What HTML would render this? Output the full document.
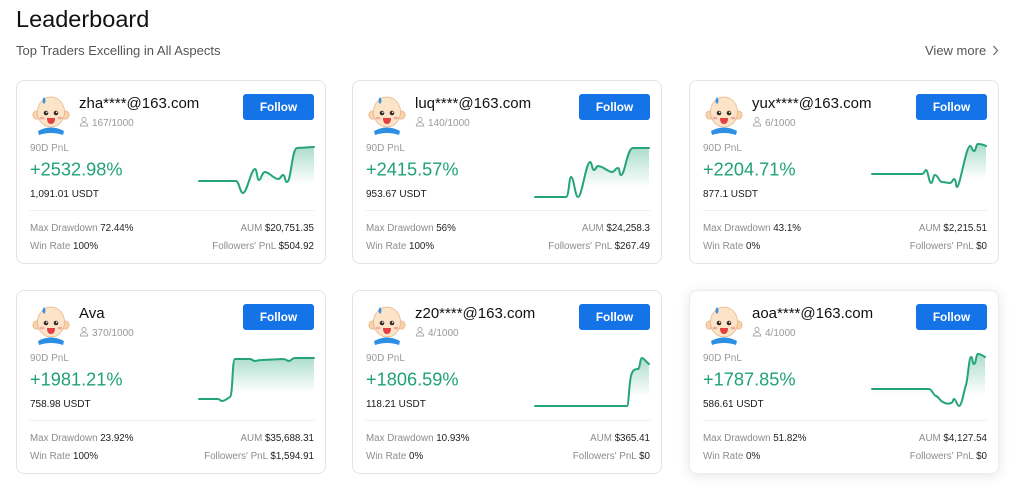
<!DOCTYPE html>
<html><head><meta charset="utf-8">
<style>
html,body{margin:0;padding:0;background:#fff;}
body{width:1024px;height:496px;position:relative;overflow:hidden;font-family:"Liberation Sans",Arial,sans-serif;}
.card{position:absolute;width:310px;height:184px;border:1px solid #e4e4e4;border-radius:8px;background:#fff;box-sizing:border-box;}
.hov{box-shadow:0 2px 12px rgba(0,0,0,0.10);border-color:#ececec;}
svg{position:absolute;left:0;top:0;}
</style></head><body>
<div class="card" style="left:16px;top:80px;"></div>
<div class="card" style="left:352px;top:80px;"></div>
<div class="card" style="left:689px;top:80px;"></div>
<div class="card" style="left:16px;top:290px;"></div>
<div class="card" style="left:352px;top:290px;"></div>
<div class="card hov" style="left:689px;top:290px;"></div>

<svg width="1024" height="496" viewBox="0 0 1024 496" font-family="Liberation Sans, Arial, sans-serif">
<defs>
<linearGradient id="gf" x1="0" y1="0" x2="0" y2="1">
<stop offset="0" stop-color="#26a67c" stop-opacity="0.38"/>
<stop offset="0.8" stop-color="#26a67c" stop-opacity="0"/>
</linearGradient>
</defs>

<text x="16" y="27" font-size="23.5" fill="#111">Leaderboard</text>
<text x="16" y="55" font-size="13" fill="#555">Top Traders Excelling in All Aspects</text>
<text x="925" y="55" font-size="13" fill="#555">View more</text>
<path d="M993.5,46 L997.5,50.5 L993.5,55" fill="none" stroke="#666" stroke-width="1.2"/>

<!-- CARD 1 -->
<g transform="translate(0,0)">
 <g>
  <circle cx="37" cy="115" r="4.2" fill="#f7d2ac" stroke="#e3ad7d" stroke-width="0.7"/>
  <circle cx="65" cy="115" r="4.2" fill="#f7d2ac" stroke="#e3ad7d" stroke-width="0.7"/>
  <path d="M38,131 Q51,124 64,131 L63,135 Q51,131 39,135 Z" fill="#2c8fe4"/>
  <ellipse cx="51" cy="112" rx="13.5" ry="15" fill="#fbe4c8" stroke="#e7b68a" stroke-width="0.8"/>
  <path d="M44,97 Q47,101 44,104 Q41,101 44,97 Z" fill="#3b8fdc"/>
  <circle cx="46" cy="113" r="2.3" fill="#3a2a26"/><circle cx="56" cy="113" r="2.3" fill="#3a2a26"/>
  <circle cx="46.7" cy="112.3" r="0.8" fill="#fff"/><circle cx="56.7" cy="112.3" r="0.8" fill="#fff"/>
  <ellipse cx="42" cy="118" rx="2.3" ry="1.3" fill="#f4a6a0"/><ellipse cx="60" cy="118" rx="2.3" ry="1.3" fill="#f4a6a0"/>
  <path d="M47,118 L55,118 Q55,124 51,124 Q47,124 47,118 Z" fill="#e2403f"/>
 </g>
 <text x="79" y="108" font-size="15" fill="#111">zha****@163.com</text>
 <circle cx="84" cy="119.6" r="2.1" fill="none" stroke="#aaa" stroke-width="0.9"/>
 <path d="M80.3,126 Q80.5,122.6 84,122.6 Q87.5,122.6 87.7,126 Z" fill="none" stroke="#aaa" stroke-width="0.9"/>
 <text x="92" y="126" font-size="10" fill="#999">167/1000</text>
 <rect x="243" y="94" width="71" height="26" rx="3" fill="#1473e6"/>
 <text x="278.5" y="111" font-size="11.8" font-weight="bold" fill="#fff" text-anchor="middle">Follow</text>
 <text x="30" y="151" font-size="10" fill="#999">90D PnL</text>
 <text x="30" y="175.5" font-size="18.2" fill="#1fa27a">+2532.98%</text>
 <text x="30" y="197" font-size="10" fill="#1a1a1a">1,091.01 USDT</text>
 <rect x="30" y="210" width="284" height="1" fill="#eeeeee"/>
 <text x="30" y="231" font-size="9.8" fill="#8c8c8c">Max Drawdown <tspan fill="#222">72.44%</tspan></text>
 <text x="30" y="249" font-size="9.8" fill="#8c8c8c">Win Rate <tspan fill="#222">100%</tspan></text>
 <text x="314" y="231" font-size="9.8" fill="#8c8c8c" text-anchor="end">AUM <tspan fill="#222">$20,751.35</tspan></text>
 <text x="314" y="249" font-size="9.8" fill="#8c8c8c" text-anchor="end">Followers' PnL <tspan fill="#222">$504.92</tspan></text>
</g>

<!-- CARD 2 -->
<g transform="translate(336,0)">
 <g>
  <circle cx="37" cy="115" r="4.2" fill="#f7d2ac" stroke="#e3ad7d" stroke-width="0.7"/>
  <circle cx="65" cy="115" r="4.2" fill="#f7d2ac" stroke="#e3ad7d" stroke-width="0.7"/>
  <path d="M38,131 Q51,124 64,131 L63,135 Q51,131 39,135 Z" fill="#2c8fe4"/>
  <ellipse cx="51" cy="112" rx="13.5" ry="15" fill="#fbe4c8" stroke="#e7b68a" stroke-width="0.8"/>
  <path d="M44,97 Q47,101 44,104 Q41,101 44,97 Z" fill="#3b8fdc"/>
  <circle cx="46" cy="113" r="2.3" fill="#3a2a26"/><circle cx="56" cy="113" r="2.3" fill="#3a2a26"/>
  <circle cx="46.7" cy="112.3" r="0.8" fill="#fff"/><circle cx="56.7" cy="112.3" r="0.8" fill="#fff"/>
  <ellipse cx="42" cy="118" rx="2.3" ry="1.3" fill="#f4a6a0"/><ellipse cx="60" cy="118" rx="2.3" ry="1.3" fill="#f4a6a0"/>
  <path d="M47,118 L55,118 Q55,124 51,124 Q47,124 47,118 Z" fill="#e2403f"/>
 </g>
 <text x="79" y="108" font-size="15" fill="#111">luq****@163.com</text>
 <circle cx="84" cy="119.6" r="2.1" fill="none" stroke="#aaa" stroke-width="0.9"/>
 <path d="M80.3,126 Q80.5,122.6 84,122.6 Q87.5,122.6 87.7,126 Z" fill="none" stroke="#aaa" stroke-width="0.9"/>
 <text x="92" y="126" font-size="10" fill="#999">140/1000</text>
 <rect x="243" y="94" width="71" height="26" rx="3" fill="#1473e6"/>
 <text x="278.5" y="111" font-size="11.8" font-weight="bold" fill="#fff" text-anchor="middle">Follow</text>
 <text x="30" y="151" font-size="10" fill="#999">90D PnL</text>
 <text x="30" y="175.5" font-size="18.2" fill="#1fa27a">+2415.57%</text>
 <text x="30" y="197" font-size="10" fill="#1a1a1a">953.67 USDT</text>
 <rect x="30" y="210" width="284" height="1" fill="#eeeeee"/>
 <text x="30" y="231" font-size="9.8" fill="#8c8c8c">Max Drawdown <tspan fill="#222">56%</tspan></text>
 <text x="30" y="249" font-size="9.8" fill="#8c8c8c">Win Rate <tspan fill="#222">100%</tspan></text>
 <text x="314" y="231" font-size="9.8" fill="#8c8c8c" text-anchor="end">AUM <tspan fill="#222">$24,258.3</tspan></text>
 <text x="314" y="249" font-size="9.8" fill="#8c8c8c" text-anchor="end">Followers' PnL <tspan fill="#222">$267.49</tspan></text>
</g>

<!-- CARD 3 -->
<g transform="translate(673,0)">
 <g>
  <circle cx="37" cy="115" r="4.2" fill="#f7d2ac" stroke="#e3ad7d" stroke-width="0.7"/>
  <circle cx="65" cy="115" r="4.2" fill="#f7d2ac" stroke="#e3ad7d" stroke-width="0.7"/>
  <path d="M38,131 Q51,124 64,131 L63,135 Q51,131 39,135 Z" fill="#2c8fe4"/>
  <ellipse cx="51" cy="112" rx="13.5" ry="15" fill="#fbe4c8" stroke="#e7b68a" stroke-width="0.8"/>
  <path d="M44,97 Q47,101 44,104 Q41,101 44,97 Z" fill="#3b8fdc"/>
  <circle cx="46" cy="113" r="2.3" fill="#3a2a26"/><circle cx="56" cy="113" r="2.3" fill="#3a2a26"/>
  <circle cx="46.7" cy="112.3" r="0.8" fill="#fff"/><circle cx="56.7" cy="112.3" r="0.8" fill="#fff"/>
  <ellipse cx="42" cy="118" rx="2.3" ry="1.3" fill="#f4a6a0"/><ellipse cx="60" cy="118" rx="2.3" ry="1.3" fill="#f4a6a0"/>
  <path d="M47,118 L55,118 Q55,124 51,124 Q47,124 47,118 Z" fill="#e2403f"/>
 </g>
 <text x="79" y="108" font-size="15" fill="#111">yux****@163.com</text>
 <circle cx="84" cy="119.6" r="2.1" fill="none" stroke="#aaa" stroke-width="0.9"/>
 <path d="M80.3,126 Q80.5,122.6 84,122.6 Q87.5,122.6 87.7,126 Z" fill="none" stroke="#aaa" stroke-width="0.9"/>
 <text x="92" y="126" font-size="10" fill="#999">6/1000</text>
 <rect x="243" y="94" width="71" height="26" rx="3" fill="#1473e6"/>
 <text x="278.5" y="111" font-size="11.8" font-weight="bold" fill="#fff" text-anchor="middle">Follow</text>
 <text x="30" y="151" font-size="10" fill="#999">90D PnL</text>
 <text x="30" y="175.5" font-size="18.2" fill="#1fa27a">+2204.71%</text>
 <text x="30" y="197" font-size="10" fill="#1a1a1a">877.1 USDT</text>
 <rect x="30" y="210" width="284" height="1" fill="#eeeeee"/>
 <text x="30" y="231" font-size="9.8" fill="#8c8c8c">Max Drawdown <tspan fill="#222">43.1%</tspan></text>
 <text x="30" y="249" font-size="9.8" fill="#8c8c8c">Win Rate <tspan fill="#222">0%</tspan></text>
 <text x="314" y="231" font-size="9.8" fill="#8c8c8c" text-anchor="end">AUM <tspan fill="#222">$2,215.51</tspan></text>
 <text x="314" y="249" font-size="9.8" fill="#8c8c8c" text-anchor="end">Followers' PnL <tspan fill="#222">$0</tspan></text>
</g>

<!-- CARD 4 -->
<g transform="translate(0,210)">
 <g>
  <circle cx="37" cy="115" r="4.2" fill="#f7d2ac" stroke="#e3ad7d" stroke-width="0.7"/>
  <circle cx="65" cy="115" r="4.2" fill="#f7d2ac" stroke="#e3ad7d" stroke-width="0.7"/>
  <path d="M38,131 Q51,124 64,131 L63,135 Q51,131 39,135 Z" fill="#2c8fe4"/>
  <ellipse cx="51" cy="112" rx="13.5" ry="15" fill="#fbe4c8" stroke="#e7b68a" stroke-width="0.8"/>
  <path d="M44,97 Q47,101 44,104 Q41,101 44,97 Z" fill="#3b8fdc"/>
  <circle cx="46" cy="113" r="2.3" fill="#3a2a26"/><circle cx="56" cy="113" r="2.3" fill="#3a2a26"/>
  <circle cx="46.7" cy="112.3" r="0.8" fill="#fff"/><circle cx="56.7" cy="112.3" r="0.8" fill="#fff"/>
  <ellipse cx="42" cy="118" rx="2.3" ry="1.3" fill="#f4a6a0"/><ellipse cx="60" cy="118" rx="2.3" ry="1.3" fill="#f4a6a0"/>
  <path d="M47,118 L55,118 Q55,124 51,124 Q47,124 47,118 Z" fill="#e2403f"/>
 </g>
 <text x="79" y="108" font-size="15" fill="#111">Ava</text>
 <circle cx="84" cy="119.6" r="2.1" fill="none" stroke="#aaa" stroke-width="0.9"/>
 <path d="M80.3,126 Q80.5,122.6 84,122.6 Q87.5,122.6 87.7,126 Z" fill="none" stroke="#aaa" stroke-width="0.9"/>
 <text x="92" y="126" font-size="10" fill="#999">370/1000</text>
 <rect x="243" y="94" width="71" height="26" rx="3" fill="#1473e6"/>
 <text x="278.5" y="111" font-size="11.8" font-weight="bold" fill="#fff" text-anchor="middle">Follow</text>
 <text x="30" y="151" font-size="10" fill="#999">90D PnL</text>
 <text x="30" y="175.5" font-size="18.2" fill="#1fa27a">+1981.21%</text>
 <text x="30" y="197" font-size="10" fill="#1a1a1a">758.98 USDT</text>
 <rect x="30" y="210" width="284" height="1" fill="#eeeeee"/>
 <text x="30" y="231" font-size="9.8" fill="#8c8c8c">Max Drawdown <tspan fill="#222">23.92%</tspan></text>
 <text x="30" y="249" font-size="9.8" fill="#8c8c8c">Win Rate <tspan fill="#222">100%</tspan></text>
 <text x="314" y="231" font-size="9.8" fill="#8c8c8c" text-anchor="end">AUM <tspan fill="#222">$35,688.31</tspan></text>
 <text x="314" y="249" font-size="9.8" fill="#8c8c8c" text-anchor="end">Followers' PnL <tspan fill="#222">$1,594.91</tspan></text>
</g>

<!-- CARD 5 -->
<g transform="translate(336,210)">
 <g>
  <circle cx="37" cy="115" r="4.2" fill="#f7d2ac" stroke="#e3ad7d" stroke-width="0.7"/>
  <circle cx="65" cy="115" r="4.2" fill="#f7d2ac" stroke="#e3ad7d" stroke-width="0.7"/>
  <path d="M38,131 Q51,124 64,131 L63,135 Q51,131 39,135 Z" fill="#2c8fe4"/>
  <ellipse cx="51" cy="112" rx="13.5" ry="15" fill="#fbe4c8" stroke="#e7b68a" stroke-width="0.8"/>
  <path d="M44,97 Q47,101 44,104 Q41,101 44,97 Z" fill="#3b8fdc"/>
  <circle cx="46" cy="113" r="2.3" fill="#3a2a26"/><circle cx="56" cy="113" r="2.3" fill="#3a2a26"/>
  <circle cx="46.7" cy="112.3" r="0.8" fill="#fff"/><circle cx="56.7" cy="112.3" r="0.8" fill="#fff"/>
  <ellipse cx="42" cy="118" rx="2.3" ry="1.3" fill="#f4a6a0"/><ellipse cx="60" cy="118" rx="2.3" ry="1.3" fill="#f4a6a0"/>
  <path d="M47,118 L55,118 Q55,124 51,124 Q47,124 47,118 Z" fill="#e2403f"/>
 </g>
 <text x="79" y="108" font-size="15" fill="#111">z20****@163.com</text>
 <circle cx="84" cy="119.6" r="2.1" fill="none" stroke="#aaa" stroke-width="0.9"/>
 <path d="M80.3,126 Q80.5,122.6 84,122.6 Q87.5,122.6 87.7,126 Z" fill="none" stroke="#aaa" stroke-width="0.9"/>
 <text x="92" y="126" font-size="10" fill="#999">4/1000</text>
 <rect x="243" y="94" width="71" height="26" rx="3" fill="#1473e6"/>
 <text x="278.5" y="111" font-size="11.8" font-weight="bold" fill="#fff" text-anchor="middle">Follow</text>
 <text x="30" y="151" font-size="10" fill="#999">90D PnL</text>
 <text x="30" y="175.5" font-size="18.2" fill="#1fa27a">+1806.59%</text>
 <text x="30" y="197" font-size="10" fill="#1a1a1a">118.21 USDT</text>
 <rect x="30" y="210" width="284" height="1" fill="#eeeeee"/>
 <text x="30" y="231" font-size="9.8" fill="#8c8c8c">Max Drawdown <tspan fill="#222">10.93%</tspan></text>
 <text x="30" y="249" font-size="9.8" fill="#8c8c8c">Win Rate <tspan fill="#222">0%</tspan></text>
 <text x="314" y="231" font-size="9.8" fill="#8c8c8c" text-anchor="end">AUM <tspan fill="#222">$365.41</tspan></text>
 <text x="314" y="249" font-size="9.8" fill="#8c8c8c" text-anchor="end">Followers' PnL <tspan fill="#222">$0</tspan></text>
</g>

<!-- CARD 6 -->
<g transform="translate(673,210)">
 <g>
  <circle cx="37" cy="115" r="4.2" fill="#f7d2ac" stroke="#e3ad7d" stroke-width="0.7"/>
  <circle cx="65" cy="115" r="4.2" fill="#f7d2ac" stroke="#e3ad7d" stroke-width="0.7"/>
  <path d="M38,131 Q51,124 64,131 L63,135 Q51,131 39,135 Z" fill="#2c8fe4"/>
  <ellipse cx="51" cy="112" rx="13.5" ry="15" fill="#fbe4c8" stroke="#e7b68a" stroke-width="0.8"/>
  <path d="M44,97 Q47,101 44,104 Q41,101 44,97 Z" fill="#3b8fdc"/>
  <circle cx="46" cy="113" r="2.3" fill="#3a2a26"/><circle cx="56" cy="113" r="2.3" fill="#3a2a26"/>
  <circle cx="46.7" cy="112.3" r="0.8" fill="#fff"/><circle cx="56.7" cy="112.3" r="0.8" fill="#fff"/>
  <ellipse cx="42" cy="118" rx="2.3" ry="1.3" fill="#f4a6a0"/><ellipse cx="60" cy="118" rx="2.3" ry="1.3" fill="#f4a6a0"/>
  <path d="M47,118 L55,118 Q55,124 51,124 Q47,124 47,118 Z" fill="#e2403f"/>
 </g>
 <text x="79" y="108" font-size="15" fill="#111">aoa****@163.com</text>
 <circle cx="84" cy="119.6" r="2.1" fill="none" stroke="#aaa" stroke-width="0.9"/>
 <path d="M80.3,126 Q80.5,122.6 84,122.6 Q87.5,122.6 87.7,126 Z" fill="none" stroke="#aaa" stroke-width="0.9"/>
 <text x="92" y="126" font-size="10" fill="#999">4/1000</text>
 <rect x="243" y="94" width="71" height="26" rx="3" fill="#1473e6"/>
 <text x="278.5" y="111" font-size="11.8" font-weight="bold" fill="#fff" text-anchor="middle">Follow</text>
 <text x="30" y="151" font-size="10" fill="#999">90D PnL</text>
 <text x="30" y="175.5" font-size="18.2" fill="#1fa27a">+1787.85%</text>
 <text x="30" y="197" font-size="10" fill="#1a1a1a">586.61 USDT</text>
 <rect x="30" y="210" width="284" height="1" fill="#eeeeee"/>
 <text x="30" y="231" font-size="9.8" fill="#8c8c8c">Max Drawdown <tspan fill="#222">51.82%</tspan></text>
 <text x="30" y="249" font-size="9.8" fill="#8c8c8c">Win Rate <tspan fill="#222">0%</tspan></text>
 <text x="314" y="231" font-size="9.8" fill="#8c8c8c" text-anchor="end">AUM <tspan fill="#222">$4,127.54</tspan></text>
 <text x="314" y="249" font-size="9.8" fill="#8c8c8c" text-anchor="end">Followers' PnL <tspan fill="#222">$0</tspan></text>
</g>

<!-- CHARTS -->
<g fill="url(#gf)" stroke="none">
 <path d="M199,181 L236,181 C239,181 240,193 243,193 C247,193 251,169 255,169 C257,169 257,180 259,180 C261,180 262,172 265,172 C269,172 274,179 278,179 C281,179 281,175 283,175 C285,175 285,182 287,182 C291,182 292,148 297,148 L314,147 L314,193 L199,193 Z"/>
 <path d="M535,197 L566,197 C569,197 569,177 571,177 C574,177 575,197 578,197 C582,197 586,162 590,162 C592,162 592,170 594,170 C596,170 596,166 598,166 C603,166 608,172 612,172 C615,172 615,168 618,168 C620,168 619,175 621,175 C625,175 627,148 633,148 L649,148 L649,197 L535,197 Z"/>
 <path d="M872,174 L922,174 C924,174 925,170 926,170 C928,170 929,183 931,183 C933,183 933,175 935,175 C938,175 939,182 942,182 C945,182 947,183 950,183 C952,183 953,179 954,179 C956,179 956,187 957,187 C960,187 966,146 970,146 C972,146 972,151 974,151 C976,151 976,144 978,144 C981,144 984,145 986,146 L986,187 L872,187 Z"/>
 <path d="M199,399 L218,399 C220,399 220,401 222,401 C225,401 228,398 230,397 C233,395 232,359 235,359 L250,359 C252,359 253,361 255,361 C257,361 258,360 262,360 L283,359 C286,359 287,361 289,361 C291,361 292,358 295,358 L314,358 L314,401 L199,401 Z"/>
 <path d="M535,406 L627,406 C629,406 629,377 632,373 C633,370 635,369 638,369 C640,369 640,358 642,358 C644,358 646,362 649,364 L649,406 L535,406 Z"/>
 <path d="M872,389 L929,389 C932,389 933,395 936,396 C939,397 940,401 943,402 C946,404 948,404 951,403 C953,403 953,399 954,399 C956,399 957,406 959,406 C962,406 964,390 966,385 C968,378 969,357 971,357 C973,357 972,364 974,364 C976,364 976,354 978,354 C981,354 983,356 985,357 L985,406 L872,406 Z"/>
</g>
<g fill="none" stroke="#25a47a" stroke-width="2" stroke-linejoin="round" stroke-linecap="round">
 <path d="M199,181 L236,181 C239,181 240,193 243,193 C247,193 251,169 255,169 C257,169 257,180 259,180 C261,180 262,172 265,172 C269,172 274,179 278,179 C281,179 281,175 283,175 C285,175 285,182 287,182 C291,182 292,148 297,148 L314,147"/>
 <path d="M535,197 L566,197 C569,197 569,177 571,177 C574,177 575,197 578,197 C582,197 586,162 590,162 C592,162 592,170 594,170 C596,170 596,166 598,166 C603,166 608,172 612,172 C615,172 615,168 618,168 C620,168 619,175 621,175 C625,175 627,148 633,148 L649,148"/>
 <path d="M872,174 L922,174 C924,174 925,170 926,170 C928,170 929,183 931,183 C933,183 933,175 935,175 C938,175 939,182 942,182 C945,182 947,183 950,183 C952,183 953,179 954,179 C956,179 956,187 957,187 C960,187 966,146 970,146 C972,146 972,151 974,151 C976,151 976,144 978,144 C981,144 984,145 986,146"/>
 <path d="M199,399 L218,399 C220,399 220,401 222,401 C225,401 228,398 230,397 C233,395 232,359 235,359 L250,359 C252,359 253,361 255,361 C257,361 258,360 262,360 L283,359 C286,359 287,361 289,361 C291,361 292,358 295,358 L314,358"/>
 <path d="M535,406 L627,406 C629,406 629,377 632,373 C633,370 635,369 638,369 C640,369 640,358 642,358 C644,358 646,362 649,364"/>
 <path d="M872,389 L929,389 C932,389 933,395 936,396 C939,397 940,401 943,402 C946,404 948,404 951,403 C953,403 953,399 954,399 C956,399 957,406 959,406 C962,406 964,390 966,385 C968,378 969,357 971,357 C973,357 972,364 974,364 C976,364 976,354 978,354 C981,354 983,356 985,357"/>
</g>
</svg>
</body></html>
